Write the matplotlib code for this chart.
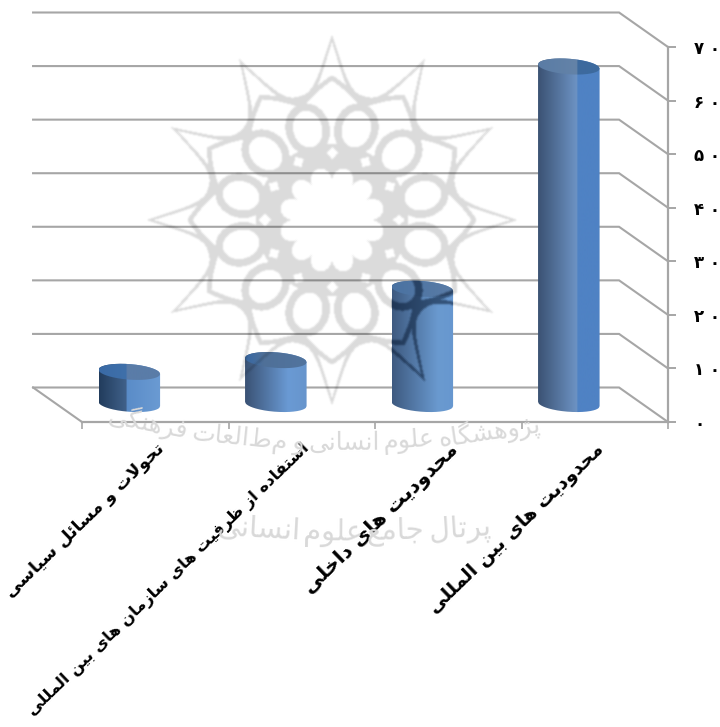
#!/usr/bin/env python3
import numpy as np

import matplotlib as mpl
mpl.use("Agg")
from matplotlib import pyplot as plt
from matplotlib.colors import LinearSegmentedColormap
from matplotlib.patches import PathPatch
from matplotlib.path import Path
from matplotlib.textpath import TextPath
from matplotlib.transforms import ScaledTranslation
from matplotlib.font_manager import FontProperties

# Chart data
categories  = ['تحولات و مسائل سیاسی',
               'استفاده از ظرفیت های سازمان های بین المللی',
               'محدودیت های داخلی',
               'محدودیت های بین المللی']
values      = [6.0, 8.2, 21.5, 63.0]
y_ticks     = [0, 10, 20, 30, 40, 50, 60, 70]
y_labels    = ['۰', '۱۰', '۲۰', '۳۰', '۴۰', '۵۰', '۶۰', '۷۰']

wm_line_1   = ['پژوهشگاه', 'علوم', 'انسانی', 'و', 'مطالعات', 'فرهنگی']
wm_line_2   = ['پرتال', 'جامع', 'علوم', 'انسانی']

# The original font runs wider or narrower depending on the label
label_sizes = [12.6, 11.7, 14.6, 13.6]

# Side and cap shading of each cylinder
side_stops  = [[(0, '#223c5c'), (0.44, '#40618a'), (0.45, '#5a8cc8'), (1, '#6b9bd3')],
               [(0, '#3a5274'), (0.7, '#6a9ad4'), (1, '#6795cc')],
               [(0, '#3e5a80'), (0.75, '#6a9ad0'), (1, '#6797cf')],
               [(0, '#3b5273'), (0.63, '#6d93c4'), (0.64, '#4f82c4'), (1, '#4f82c4')]]
cap_stops   = [[(0, '#3a6aa5'), (0.44, '#3f70aa'), (0.45, '#5a7ca8'), (1, '#5a7ca8')],
               [(0, '#3a68a0'), (0.1, '#3e6aa0'), (0.3, '#4f7098'), (1, '#52749e')],
               [(0, '#4a72a2'), (1, '#5a7ca6')],
               [(0, '#5a7ca5'), (0.63, '#6483a8'), (0.64, '#3d6a9e'), (1, '#3d6a9e')]]

GRID_COLOR  = '#a6a6a6'
BACK_DX     = -0.334    # Depth of the floor, in categories
BACK_DY     = 6.44      # and in value units
BAR_DX      = -0.177
BAR_DY      = 3.36
BAR_HALF    = 0.21
CAP_HEIGHT  = 1.45
CAP_TILT    = 0.4

# Letter forms: isolated, final, initial, medial
FORMS = {'ا':(0xFE8D,0xFE8E),'آ':(0xFE81,0xFE82),'د':(0xFEA9,0xFEAA),'ذ':(0xFEAB,0xFEAC),
         'ر':(0xFEAD,0xFEAE),'ز':(0xFEAF,0xFEB0),'ژ':(0xFB8A,0xFB8B),'و':(0xFEED,0xFEEE),
         'ب':(0xFE8F,0xFE90,0xFE91,0xFE92),'پ':(0xFB56,0xFB57,0xFB58,0xFB59),
         'ت':(0xFE95,0xFE96,0xFE97,0xFE98),'ج':(0xFE9D,0xFE9E,0xFE9F,0xFEA0),
         'ح':(0xFEA1,0xFEA2,0xFEA3,0xFEA4),'خ':(0xFEA5,0xFEA6,0xFEA7,0xFEA8),
         'س':(0xFEB1,0xFEB2,0xFEB3,0xFEB4),'ش':(0xFEB5,0xFEB6,0xFEB7,0xFEB8),
         'ظ':(0xFEC5,0xFEC6,0xFEC7,0xFEC8),'ع':(0xFEC9,0xFECA,0xFECB,0xFECC),
         'ف':(0xFED1,0xFED2,0xFED3,0xFED4),'ق':(0xFED5,0xFED6,0xFED7,0xFED8),
         'ک':(0xFB8E,0xFB8F,0xFB90,0xFB91),'گ':(0xFB92,0xFB93,0xFB94,0xFB95),
         'ل':(0xFEDD,0xFEDE,0xFEDF,0xFEE0),'م':(0xFEE1,0xFEE2,0xFEE3,0xFEE4),
         'ن':(0xFEE5,0xFEE6,0xFEE7,0xFEE8),'ه':(0xFEE9,0xFEEA,0xFEEB,0xFEEC),
         'ی':(0xFBFC,0xFBFD,0xFBFE,0xFBFF),'ئ':(0xFE89,0xFE8A,0xFE8B,0xFE8C)}

def shape(text):
    """
    matplotlib does not shape Arabic script, so pick the joined letter forms here
    and return the string in drawing order.
    """
    out = []
    ii  = 0
    while ii < len(text):
        ch          = text[ii]
        prev        = text[ii-1] if ii > 0 else ' '
        prev_joins  = len(FORMS.get(prev,())) == 4
        if ch == 'ل' and text[ii+1:ii+2] == 'ا':
            out.append(chr(0xFEFC if prev_joins else 0xFEFB))
            ii += 2
            continue
        forms = FORMS.get(ch)
        if forms is None:
            out.append(ch)
        else:
            next_ch     = text[ii+1] if ii+1 < len(text) else ' '
            next_joins  = len(forms) == 4 and next_ch in FORMS
            if len(forms) == 2:
                out.append(chr(forms[1 if prev_joins else 0]))
            elif prev_joins:
                out.append(chr(forms[3 if next_joins else 1]))
            else:
                out.append(chr(forms[2 if next_joins else 0]))
        ii += 1
    return ''.join(reversed(out))

def rosette_mask(width,height,xc=332.,yc=220.):
    """
    Twelve-fold watermark rosette on the pixel grid, values from 0 to 1.
    """
    X, Y    = np.meshgrid(np.arange(width)+0.5,np.arange(height)+0.5)
    dx      = X - xc
    dy      = yc - Y
    rad     = np.hypot(dx,dy)
    wedge   = np.pi/6.
    ang     = np.abs((np.arctan2(dy,dx) + wedge/2.) % wedge - wedge/2.)
    frac    = ang/(wedge/2.)
    uu      = rad*np.cos(ang)
    vv      = rad*np.sin(ang)

    # Outer cusped arcs and the kites under them
    r_arc   = 124. + 58.*(1.-frac)**2.6
    mask    = np.abs(rad-r_arc) < 3.8
    r_kite  = 118. + 24.*(1.-frac)
    mask    = mask | (np.abs(rad-r_kite) < 2.8)

    # Ring of twelve ovals
    cs, sn  = np.cos(wedge/2.), np.sin(wedge/2.)
    pp      = uu*cs + vv*sn - 94.
    qq      = -uu*sn + vv*cs
    oval    = np.hypot(pp/26.,qq/22.) < 1.
    hole    = np.hypot(pp/18.5,qq/14.5) < 1.
    mask    = mask | oval

    # Thick ring around the scalloped centre
    r_flow  = 38. + 15.*np.sqrt(np.sin(6.*ang))
    mask    = mask | ((rad > r_flow) & (rad < 76.))
    mask    = mask & ~hole
    diamond = np.abs(uu-67.)/6. + np.abs(vv)/6. < 1.
    mask    = mask & ~diamond

    soft = mask.astype(float)
    for _ in range(2):
        soft = (soft + np.roll(soft,1,0) + np.roll(soft,-1,0)
                + np.roll(soft,1,1) + np.roll(soft,-1,1))/5.
    return soft

def draw_word_arc(ax,words,x_right,y_mid,x_mid,curve,fontsize,gap):
    """
    Writes words from right to left along a shallow parabola, in pixel coordinates.
    """
    x_now = x_right
    for word in words:
        txt     = shape(word)
        tp      = TextPath((0,0),txt,size=fontsize,prop=FontProperties(family='DejaVu Sans'))
        wid     = tp.get_extents().width*100./72.
        xx      = x_now - wid/2.
        yy      = y_mid - curve*(xx-x_mid)**2
        rot     = np.degrees(np.arctan(2.*curve*(xx-x_mid)))
        ax.text(xx,yy,txt,fontsize=fontsize,color='#d9d9d9',ha='center',va='baseline',
                rotation=rot,rotation_mode='anchor',family='DejaVu Sans',zorder=1)
        x_now  -= wid + gap

W, H    = 720, 727
fig     = plt.figure(figsize=(W/100.,H/100.),dpi=100,facecolor='white')
ax      = fig.add_axes([82./W,1.-422./H,586./W,375./H],facecolor='none')
ax.set_xlim(0,4)
ax.set_ylim(0,70)

# Axis lines and ticks
for side in ['top','left']:
    ax.spines[side].set_visible(False)
for side in ['right','bottom']:
    ax.spines[side].set_color(GRID_COLOR)
    ax.spines[side].set_linewidth(1.6)
ax.set_xticks(np.arange(len(categories)+1))
ax.set_xticklabels([])
ax.set_xticks(np.arange(len(categories))+0.5,minor=True)
tick_txt    = ax.set_xticklabels([shape(cc) for cc in categories],minor=True,rotation=44,ha='right',va='top',
                                 rotation_mode='anchor',fontweight='bold',family='DejaVu Sans')
offset      = ScaledTranslation(-6./72.,0,fig.dpi_scale_trans)
for lbl, size in zip(tick_txt,label_sizes):
    lbl.set_fontsize(size)
    lbl.set_transform(lbl.get_transform()+offset)
ax.tick_params(axis='x',which='major',length=5,width=1.2,color=GRID_COLOR)
ax.tick_params(axis='x',which='minor',length=0,pad=13)
ax.yaxis.tick_right()
ax.set_yticks(y_ticks)
# Digits run left to right and stand apart in the reference
ax.set_yticklabels([' '.join(ll) for ll in y_labels],fontsize=12,fontweight='bold',family='DejaVu Sans',ha='left')
ax.tick_params(axis='y',length=6,width=1.4,color=GRID_COLOR,pad=13)

# Back wall grid and floor
for val in y_ticks:
    ax.plot([BACK_DX,4+BACK_DX,4],[val+BACK_DY,val+BACK_DY,val],color=GRID_COLOR,lw=1.5,
            clip_on=False,zorder=2,solid_joinstyle='miter')
ax.plot([BACK_DX,0],[BACK_DY,0],color=GRID_COLOR,lw=1.5,clip_on=False,zorder=2)

# Cylinders
bar_paths = []
for ii, val in enumerate(values):
    xc      = ii + 0.5 + BAR_DX
    xx      = np.linspace(-1.,1.,81)
    low     = BAR_DY - CAP_HEIGHT*np.sqrt(1.-xx**2) - CAP_TILT*xx
    top     = val + BAR_DY + CAP_HEIGHT*np.sqrt(1.-xx**2) - CAP_TILT*xx
    cap_low = val + BAR_DY - CAP_HEIGHT*np.sqrt(1.-xx**2) - CAP_TILT*xx
    px      = xc + BAR_HALF*xx

    body    = Path(np.column_stack([np.r_[px,px[::-1]],np.r_[low,top[::-1]]]),closed=False)
    cap     = Path(np.column_stack([np.r_[px,px[::-1]],np.r_[cap_low,top[::-1]]]),closed=False)
    bar_paths.append(body)
    extent  = [xc-BAR_HALF,xc+BAR_HALF,-10,90]
    for path, stops in [(body,side_stops[ii]),(cap,cap_stops[ii])]:
        cmap    = LinearSegmentedColormap.from_list('bar',stops)
        img     = ax.imshow(np.linspace(0,1,256)[None,:],extent=extent,cmap=cmap,vmin=0,vmax=1,
                            aspect='auto',zorder=3,interpolation='bilinear')
        patch   = PathPatch(path,transform=ax.transData,facecolor='none',edgecolor='none')
        ax.add_patch(patch)
        img.set_clip_path(patch)
ax.set_xlim(0,4)
ax.set_ylim(0,70)

# Watermark goes over the whole chart
over    = fig.add_axes([0,0,1,1],facecolor='none',zorder=5)
over.set_xlim(0,W)
over.set_ylim(H,0)
over.axis('off')

soft    = rosette_mask(W,H)
rgba    = np.zeros((H,W,4))
rgba[...,3] = 0.145*soft
over.imshow(rgba,extent=[0,W,H,0],aspect='auto',zorder=2,interpolation='nearest')

dark    = np.zeros((H,W,4))
dark[...,:3] = [0.05,0.13,0.25]
dark[...,3]  = 0.5*soft
bar_img = over.imshow(dark,extent=[0,W,H,0],aspect='auto',zorder=3,interpolation='nearest')
bar_img.set_clip_path(bar_paths[2],ax.transData)
over.set_xlim(0,W)
over.set_ylim(H,0)

draw_word_arc(over,wm_line_1,540.,450.,340.,0.0005,18,7.)
draw_word_arc(over,wm_line_2,490.,540.,350.,0.0003,21,8.)

fig.savefig('out.png',dpi=100)
plt.close(fig)
